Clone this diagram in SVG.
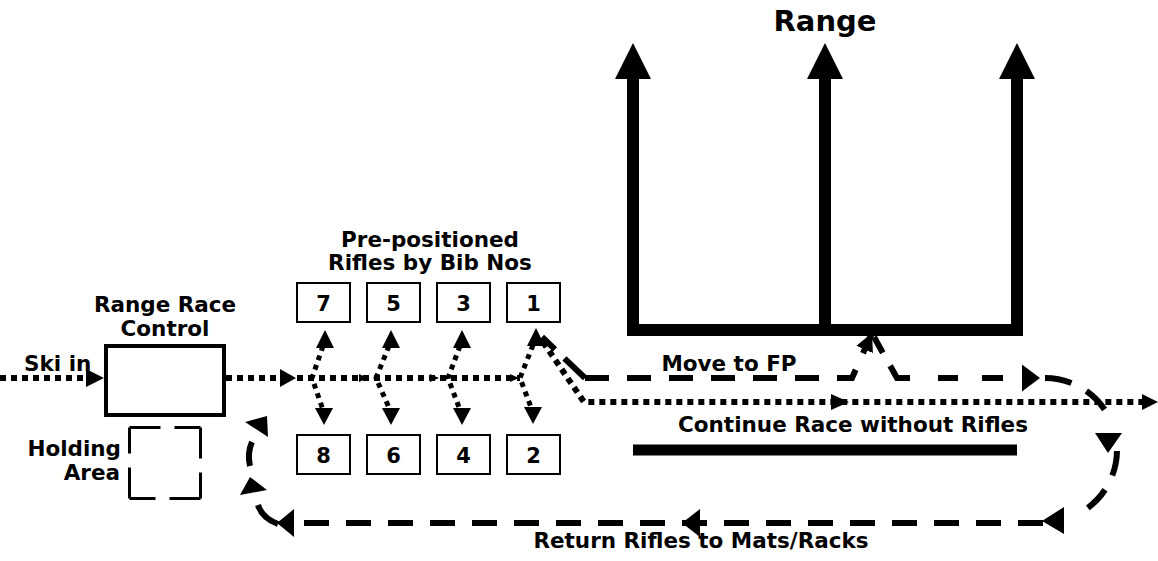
<svg xmlns="http://www.w3.org/2000/svg" width="1158" height="561" viewBox="0 0 1158 561">
<style>
  .t { font-family: "DejaVu Sans", Verdana, sans-serif; font-weight: bold; font-size: 21.5px; fill: #000; }
  .num { font-family: "DejaVu Sans", Verdana, sans-serif; font-weight: bold; font-size: 21px; fill: #000; text-anchor: middle; }
  .box { fill: #fff; stroke: #000; stroke-width: 2; }
  .dot { fill: none; stroke: #000; stroke-width: 6; stroke-dasharray: 6 5; }
  .dotc { fill: none; stroke: #000; stroke-width: 5; stroke-dasharray: 5 5; }
  .dash { fill: none; stroke: #000; stroke-width: 6; stroke-dasharray: 24 18; }
  .solid { fill: none; stroke: #000; stroke-width: 6; }
  .thick { fill: none; stroke: #000; stroke-width: 12; }
  .ah { fill: #000; stroke: none; }
</style>
<defs>
  <marker id="tri" viewBox="0 0 20 20" refX="18" refY="10" markerWidth="20" markerHeight="20" markerUnits="userSpaceOnUse" orient="auto">
    <path d="M0,1 L18,10 L0,19 Z" fill="#000"/>
  </marker>
  <marker id="big" viewBox="0 0 18 27" refX="18" refY="13.5" markerWidth="18" markerHeight="27" markerUnits="userSpaceOnUse" orient="auto">
    <path d="M0,0 L18,13.5 L0,27 Z" fill="#000"/>
  </marker>
</defs>

<!-- Range -->
<g id="range">
  <text class="t" x="825" y="31" text-anchor="middle" style="font-size:29px">Range</text>
  <path class="thick" d="M633,78 V330 H1017 V78"/>
  <path class="thick" d="M825,78 V330"/>
  <polygon class="ah" points="633,43 651,79 615,79"/>
  <polygon class="ah" points="825,43 843,79 807,79"/>
  <polygon class="ah" points="1017,43 1035,79 999,79"/>
  <line x1="633" y1="450" x2="1017" y2="450" stroke="#000" stroke-width="11"/>
</g>

<!-- Range Race Control -->
<g id="rrc">
  <rect x="106" y="346" width="118" height="69" fill="#fff" stroke="#000" stroke-width="4"/>
  <text class="t" x="165" y="312" text-anchor="middle">Range Race</text>
  <text class="t" x="165" y="336" text-anchor="middle">Control</text>
</g>

<!-- Holding Area -->
<g id="holding">
  <rect x="129.5" y="427.5" width="71" height="71" fill="none" stroke="#000" stroke-width="3" stroke-dasharray="31 14 26 0"/>
  <text class="t" x="121" y="456" text-anchor="end">Holding</text>
  <text class="t" x="120" y="480" text-anchor="end">Area</text>
</g>

<!-- Rifle boxes -->
<g id="rifles-label">
  <text class="t" x="430" y="247" text-anchor="middle">Pre-positioned</text>
  <text class="t" x="430" y="270" text-anchor="middle">Rifles by Bib Nos</text>
</g>
<g id="bib7"><rect class="box" x="297" y="283" width="53" height="39"/><text class="num" x="323.5" y="311">7</text></g>
<g id="bib5"><rect class="box" x="367" y="283" width="53" height="39"/><text class="num" x="393.5" y="311">5</text></g>
<g id="bib3"><rect class="box" x="437" y="283" width="53" height="39"/><text class="num" x="463.5" y="311">3</text></g>
<g id="bib1"><rect class="box" x="507" y="283" width="53" height="39"/><text class="num" x="533.5" y="311">1</text></g>
<g id="bib8"><rect class="box" x="297" y="435" width="53" height="39"/><text class="num" x="323.5" y="463">8</text></g>
<g id="bib6"><rect class="box" x="367" y="435" width="53" height="39"/><text class="num" x="393.5" y="463">6</text></g>
<g id="bib4"><rect class="box" x="437" y="435" width="53" height="39"/><text class="num" x="463.5" y="463">4</text></g>
<g id="bib2"><rect class="box" x="507" y="435" width="53" height="39"/><text class="num" x="533.5" y="463">2</text></g>

<!-- Connectors -->
<g id="connectors">
  <!-- Ski in -->
  <path class="dot" d="M0,378 H88"/>
  <polygon class="ah" points="86,369 104,378 86,387"/>
  <text class="t" x="24" y="371">Ski in</text>
  <!-- main dotted line -->
  <path class="dot" d="M226,378 H282"/>
  <polygon class="ah" points="280,369 296,378 280,387"/>
  <path class="dot" d="M297,378 H520"/>
  <polygon class="ah" points="359,374 368,378 359,382"/>
  <polygon class="ah" points="430,374 439,378 430,382"/>
  <polygon class="ah" points="510,374 519,378 510,382"/>
  <!-- column arrows -->
  <path class="dotc" d="M323,346 L312,378 L323,410"/>
  <polygon class="ah" points="325,330 334,348 316,348"/>
  <polygon class="ah" points="324,425 333,408 315,408"/>
  <path class="dotc" d="M389,346 L376,378 L390,410"/>
  <polygon class="ah" points="391,330 400,348 382,348"/>
  <polygon class="ah" points="391,425 400,408 382,408"/>
  <path class="dotc" d="M460,346 L448,378 L460,410"/>
  <polygon class="ah" points="462,330 471,348 453,348"/>
  <polygon class="ah" points="462,425 471,408 453,408"/>
  <path class="dotc" d="M533,345 L520,378 L532,410"/>
  <polygon class="ah" points="536,328 545,346 527,346"/>
  <polygon class="ah" points="533,424 542,407 524,407"/>
  <!-- Continue race without rifles -->
  <path class="dot" d="M543,342 L584,402 H1144"/>
  <polygon class="ah" points="1142,394 1158,402 1142,410"/>
  <polygon class="ah" points="831,394 849,402 831,410"/>
  <text class="t" x="853" y="432" text-anchor="middle">Continue Race without Rifles</text>
  <!-- Move to FP -->
  <path class="solid" d="M542,337 L585,378" stroke-dasharray="18 13 30"/>
  <path class="dash" d="M585,378 H852 L872,333" marker-end="url(#tri)"/>
  <path class="solid" d="M874,337 L897,378 H1040" stroke-dasharray="18 15 27 28 20 24 21 100" marker-end="url(#big)"/>
  <text class="t" x="729" y="371" text-anchor="middle">Move to FP</text>
  <!-- loop back right -->
  <path class="solid" d="M1045,378 A72,72 0 0 1 1045,522" stroke-dasharray="27 17 26 44 25 16 25 200"/>
  <polygon class="ah" points="1095,433 1122,433 1108,453"/>
  <polygon class="ah" points="1042,521 1064,507 1064,534"/>
  <!-- Return line -->
  <path class="solid" d="M1043,523 H293" stroke-dasharray="25 17"/>
  <polygon class="ah" points="682,523 700,509 700,537"/>
  <polygon class="ah" points="277,523 294,509 294,537"/>
  <text class="t" x="701" y="548" text-anchor="middle">Return Rifles to Mats/Racks</text>
  <!-- loop back left -->
  <path class="solid" d="M278,524 Q262,518 258,505"/>
  <polygon class="ah" points="250,477 267,490 240,495"/>
  <path class="solid" d="M252,442 Q247,453 250,466"/>
  <polygon class="ah" points="245,422 267,416 268,437"/>
</g>
</svg>
